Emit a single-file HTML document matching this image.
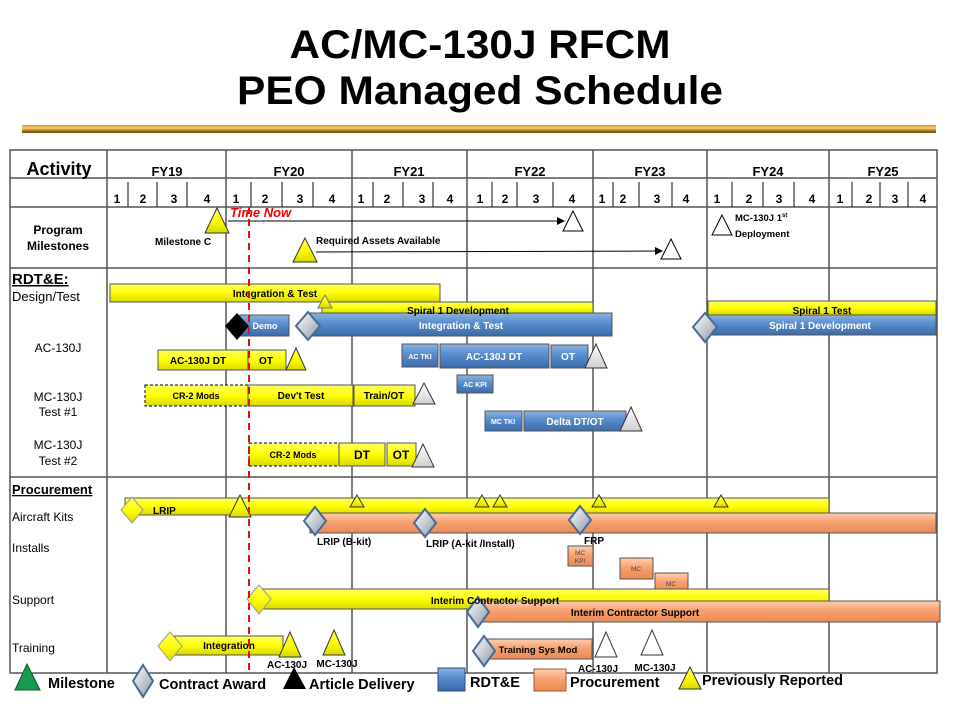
<!DOCTYPE html>
<html><head><meta charset="utf-8"><style>
html,body{margin:0;padding:0;background:#fff;}
svg{display:block;font-family:"Liberation Sans",sans-serif;}
.b{font-weight:bold;}
</style></head><body>
<svg width="960" height="720" viewBox="0 0 960 720" xmlns="http://www.w3.org/2000/svg">
<defs>
<linearGradient id="gold" x1="0" y1="0" x2="0" y2="1"><stop offset="0" stop-color="#c8961e"/><stop offset="0.4" stop-color="#f3d27a"/><stop offset="0.7" stop-color="#a9780f"/><stop offset="1" stop-color="#6b4a05"/></linearGradient>
<linearGradient id="yel" x1="0" y1="0" x2="0" y2="1"><stop offset="0" stop-color="#ffff66"/><stop offset="0.5" stop-color="#ffff00"/><stop offset="1" stop-color="#d8d800"/></linearGradient>
<linearGradient id="blu" x1="0" y1="0" x2="0" y2="1"><stop offset="0" stop-color="#8fb3e0"/><stop offset="0.4" stop-color="#5b8fd0"/><stop offset="1" stop-color="#3b6aa8"/></linearGradient>
<linearGradient id="org" x1="0" y1="0" x2="0" y2="1"><stop offset="0" stop-color="#fcd0b0"/><stop offset="0.45" stop-color="#f7a070"/><stop offset="1" stop-color="#e98a55"/></linearGradient>
<linearGradient id="dia" x1="0" y1="0" x2="1" y2="1"><stop offset="0" stop-color="#ffffff"/><stop offset="0.5" stop-color="#c8ccd4"/><stop offset="1" stop-color="#8a93a3"/></linearGradient>
<linearGradient id="wt" x1="0" y1="0" x2="0" y2="1"><stop offset="0" stop-color="#ffffff"/><stop offset="1" stop-color="#cfcfcf"/></linearGradient>
<marker id="ar" markerWidth="8" markerHeight="8" refX="7" refY="4" orient="auto"><path d="M0,0 L8,4 L0,8z" fill="#000"/></marker>
</defs>

<!-- Title -->
<text x="480" y="58" text-anchor="middle" class="b" font-size="40" textLength="381" lengthAdjust="spacingAndGlyphs">AC/MC-130J RFCM</text>
<text x="480" y="104" text-anchor="middle" class="b" font-size="40" textLength="486" lengthAdjust="spacingAndGlyphs">PEO Managed Schedule</text>
<rect x="22" y="125" width="914" height="8" fill="url(#gold)"/>

<!-- Grid -->
<g stroke="#555" stroke-width="1.5" fill="none">
<rect x="10" y="150" width="927" height="523"/>
<line x1="10" y1="178" x2="937" y2="178"/>
<line x1="10" y1="207" x2="937" y2="207"/>
<line x1="10" y1="268" x2="937" y2="268"/>
<line x1="10" y1="477" x2="937" y2="477"/>
<line x1="107" y1="150" x2="107" y2="673"/>
<line x1="226" y1="150" x2="226" y2="673"/>
<line x1="352" y1="150" x2="352" y2="673"/>
<line x1="467" y1="150" x2="467" y2="673"/>
<line x1="593" y1="150" x2="593" y2="673"/>
<line x1="707" y1="150" x2="707" y2="673"/>
<line x1="829" y1="150" x2="829" y2="673"/>
</g>
<g stroke="#333" stroke-width="1.2">
<line x1="128" y1="182" x2="128" y2="207"/><line x1="157" y1="182" x2="157" y2="207"/><line x1="187" y1="182" x2="187" y2="207"/>
<line x1="251" y1="182" x2="251" y2="207"/><line x1="282" y1="182" x2="282" y2="207"/><line x1="313" y1="182" x2="313" y2="207"/>
<line x1="373" y1="182" x2="373" y2="207"/><line x1="403" y1="182" x2="403" y2="207"/><line x1="433" y1="182" x2="433" y2="207"/>
<line x1="492" y1="182" x2="492" y2="207"/><line x1="517" y1="182" x2="517" y2="207"/><line x1="553" y1="182" x2="553" y2="207"/>
<line x1="613" y1="182" x2="613" y2="207"/><line x1="639" y1="182" x2="639" y2="207"/><line x1="672" y1="182" x2="672" y2="207"/>
<line x1="732" y1="182" x2="732" y2="207"/><line x1="763" y1="182" x2="763" y2="207"/><line x1="794" y1="182" x2="794" y2="207"/>
<line x1="852" y1="182" x2="852" y2="207"/><line x1="880" y1="182" x2="880" y2="207"/><line x1="908" y1="182" x2="908" y2="207"/>
</g>
<text x="59" y="175" text-anchor="middle" class="b" font-size="18">Activity</text>
<g class="b" font-size="13" text-anchor="middle">
<text x="167" y="176">FY19</text><text x="289" y="176">FY20</text><text x="409" y="176">FY21</text><text x="530" y="176">FY22</text><text x="650" y="176">FY23</text><text x="768" y="176">FY24</text><text x="883" y="176">FY25</text>
</g>
<g class="b" font-size="12" text-anchor="middle">
<text x="117" y="203">1</text><text x="143" y="203">2</text><text x="174" y="203">3</text><text x="207" y="203">4</text>
<text x="236" y="203">1</text><text x="265" y="203">2</text><text x="300" y="203">3</text><text x="332" y="203">4</text>
<text x="361" y="203">1</text><text x="387" y="203">2</text><text x="422" y="203">3</text><text x="450" y="203">4</text>
<text x="480" y="203">1</text><text x="505" y="203">2</text><text x="536" y="203">3</text><text x="572" y="203">4</text>
<text x="602" y="203">1</text><text x="623" y="203">2</text><text x="657" y="203">3</text><text x="686" y="203">4</text>
<text x="717" y="203">1</text><text x="749" y="203">2</text><text x="779" y="203">3</text><text x="812" y="203">4</text>
<text x="840" y="203">1</text><text x="869" y="203">2</text><text x="895" y="203">3</text><text x="923" y="203">4</text>
</g>

<!-- Program milestones -->
<g class="b" font-size="12" text-anchor="middle"><text x="58" y="234">Program</text><text x="58" y="250">Milestones</text></g>
<line x1="228" y1="221" x2="564" y2="221" stroke="#000" stroke-width="1" marker-end="url(#ar)"/>
<line x1="316" y1="252" x2="662" y2="251" stroke="#000" stroke-width="1" marker-end="url(#ar)"/>
<polygon points="217,208 205,233 229,233" fill="url(#yel)" stroke="#333"/>
<text x="155" y="245" class="b" font-size="10">Milestone C</text>
<polygon points="305,238 293,262 317,262" fill="url(#yel)" stroke="#333"/>
<text x="316" y="244" class="b" font-size="10">Required Assets Available</text>
<polygon points="573,211 563,231 583,231" fill="#fff" stroke="#000"/>
<polygon points="671,239 661,259 681,259" fill="#fff" stroke="#000"/>
<polygon points="722,215 712,235 732,235" fill="#fff" stroke="#000"/>
<text x="735" y="221" class="b" font-size="9.5">MC-130J 1<tspan font-size="6" dy="-4">st</tspan></text>
<text x="735" y="237" class="b" font-size="9.5">Deployment</text>
<text x="230" y="217" class="b" font-size="13" fill="#e00" font-style="italic">Time Now</text>

<!-- RDT&E -->
<text x="12" y="284" class="b" font-size="15" text-decoration="underline">RDT&amp;E:</text>
<text x="12" y="301" font-size="13">Design/Test</text>
<text x="58" y="352" text-anchor="middle" font-size="12">AC-130J</text>
<text x="58" y="401" text-anchor="middle" font-size="12">MC-130J</text>
<text x="58" y="416" text-anchor="middle" font-size="12">Test #1</text>
<text x="58" y="449" text-anchor="middle" font-size="12">MC-130J</text>
<text x="58" y="465" text-anchor="middle" font-size="12">Test #2</text>

<g stroke="#555" stroke-width="1">
<rect x="110" y="284" width="330" height="18" fill="url(#yel)"/>
<rect x="322" y="302" width="271" height="12" fill="url(#yel)"/>
<rect x="708" y="301" width="228" height="14" fill="url(#yel)"/>
<rect x="240" y="315" width="49" height="21" fill="url(#blu)"/>
<rect x="310" y="313" width="302" height="23" fill="url(#blu)"/>
<rect x="707" y="315" width="229" height="20" fill="url(#blu)"/>
<rect x="158" y="350" width="90" height="20" fill="url(#yel)"/>
<rect x="248" y="350" width="38" height="20" fill="url(#yel)"/>
<rect x="402" y="344" width="36" height="23" fill="url(#blu)"/>
<rect x="440" y="344" width="109" height="24" fill="url(#blu)"/>
<rect x="551" y="345" width="37" height="23" fill="url(#blu)"/>
<rect x="457" y="375" width="36" height="18" fill="url(#blu)"/>
<rect x="145" y="385" width="103" height="21" fill="url(#yel)" stroke="#000" stroke-dasharray="3,2"/>
<rect x="248" y="385" width="105" height="21" fill="url(#yel)"/>
<rect x="354" y="385" width="61" height="21" fill="url(#yel)"/>
<rect x="485" y="411" width="37" height="20" fill="url(#blu)"/>
<rect x="524" y="411" width="102" height="20" fill="url(#blu)"/>
<rect x="249" y="443" width="90" height="23" fill="url(#yel)" stroke="#000" stroke-dasharray="3,2"/>
<rect x="339" y="443" width="46" height="23" fill="url(#yel)"/>
<rect x="387" y="443" width="29" height="23" fill="url(#yel)"/>
</g>
<polygon points="325,295 318,308 332,308" fill="url(#yel)" stroke="#777"/>
<polygon points="237,313 249,326 237,340 225,326" fill="#000"/>
<polygon points="308,312 320,326 308,340 296,326" fill="url(#dia)" stroke="#4a6a95" stroke-width="2"/>
<polygon points="705,313 717,327 705,342 693,327" fill="url(#dia)" stroke="#4a6a95" stroke-width="2"/>
<polygon points="296,348 286,370 306,370" fill="url(#yel)" stroke="#333"/>
<polygon points="596,344 585,368 607,368" fill="url(#wt)" stroke="#333"/>
<polygon points="424,383 413,404 435,404" fill="url(#wt)" stroke="#333"/>
<polygon points="631,407 620,431 642,431" fill="url(#wt)" stroke="#333"/>
<polygon points="423,444 412,467 434,467" fill="url(#wt)" stroke="#333"/>
<g class="b" font-size="10" text-anchor="middle" fill="#000">
<text x="275" y="297">Integration &amp; Test</text>
<text x="458" y="314">Spiral 1 Development</text>
<text x="822" y="314">Spiral 1 Test</text>
<text x="198" y="364">AC-130J DT</text>
<text x="266" y="364">OT</text>
<text x="196" y="399" font-size="9">CR-2 Mods</text>
<text x="301" y="399">Dev't Test</text>
<text x="384" y="399">Train/OT</text>
<text x="293" y="458" font-size="9">CR-2 Mods</text>
<text x="362" y="459" font-size="12">DT</text>
<text x="401" y="459" font-size="12">OT</text>
</g>
<g class="b" font-size="10" text-anchor="middle" fill="#fff">
<text x="265" y="329" font-size="9">Demo</text>
<text x="461" y="329">Integration &amp; Test</text>
<text x="820" y="329">Spiral 1 Development</text>
<text x="420" y="359" font-size="7">AC TKI</text>
<text x="494" y="360">AC-130J DT</text>
<text x="568" y="360">OT</text>
<text x="475" y="387" font-size="7">AC KPI</text>
<text x="503" y="424" font-size="7">MC TKI</text>
<text x="575" y="425">Delta DT/OT</text>
</g>

<!-- Procurement -->
<text x="12" y="494" class="b" font-size="13" text-decoration="underline">Procurement</text>
<text x="12" y="521" font-size="12">Aircraft Kits</text>
<text x="12" y="552" font-size="12">Installs</text>
<text x="12" y="604" font-size="12">Support</text>
<text x="12" y="652" font-size="12">Training</text>

<g stroke="#555" stroke-width="1">
<rect x="125" y="498" width="704" height="17" fill="url(#yel)"/>
<rect x="310" y="513" width="626" height="20" fill="url(#org)"/>
<rect x="568" y="546" width="25" height="20" fill="url(#org)"/>
<rect x="620" y="558" width="33" height="21" fill="url(#org)"/>
<rect x="655" y="573" width="33" height="20" fill="url(#org)"/>
<rect x="255" y="589" width="574" height="20" fill="url(#yel)"/>
<rect x="475" y="601" width="465" height="21" fill="url(#org)"/>
<rect x="175" y="636" width="108" height="19" fill="url(#yel)"/>
<rect x="485" y="639" width="107" height="20" fill="url(#org)"/>
</g>
<g fill="url(#yel)" stroke="#333">
<polygon points="240,495 229,517 251,517"/>
<polygon points="357,495 350,507 364,507"/>
<polygon points="482,495 475,507 489,507"/>
<polygon points="500,495 493,507 507,507"/>
<polygon points="599,495 592,507 606,507"/>
<polygon points="721,495 714,507 728,507"/>
<polygon points="290,632 279,657 301,657"/>
<polygon points="334,630 323,655 345,655"/>
</g>
<g fill="url(#yel)" stroke="#999">
<polygon points="132,497 143,510 132,523 121,510"/>
<polygon points="259,585 271,599 259,614 247,599"/>
<polygon points="170,632 182,646 170,661 158,646"/>
</g>
<g fill="url(#dia)" stroke="#4a6a95" stroke-width="2">
<polygon points="315,507 326,521 315,535 304,521"/>
<polygon points="425,509 436,523 425,537 414,523"/>
<polygon points="580,506 591,520 580,534 569,520"/>
<polygon points="478,597 489,612 478,627 467,612"/>
<polygon points="484,636 495,651 484,666 473,651"/>
</g>
<polygon points="606,632 595,657 617,657" fill="#fff" stroke="#333"/>
<polygon points="652,630 641,655 663,655" fill="#fff" stroke="#333"/>
<g class="b" font-size="10" fill="#000">
<text x="153" y="514">LRIP</text>
<text x="317" y="545">LRIP (B-kit)</text>
<text x="426" y="547">LRIP (A-kit /Install)</text>
<text x="584" y="544">FRP</text>
<text x="495" y="604" text-anchor="middle">Interim Contractor Support</text>
<text x="635" y="616" text-anchor="middle">Interim Contractor Support</text>
<text x="229" y="649" text-anchor="middle">Integration</text>
<text x="538" y="653" text-anchor="middle" font-size="9.5">Training Sys Mod</text>
<text x="287" y="668" text-anchor="middle">AC-130J</text>
<text x="337" y="667" text-anchor="middle">MC-130J</text>
<text x="598" y="672" text-anchor="middle">AC-130J</text>
<text x="655" y="671" text-anchor="middle">MC-130J</text>
</g>
<g font-size="6.5" fill="#444" text-anchor="middle">
<text x="580" y="555">MC</text><text x="580" y="563">KPI</text>
<text x="636" y="571">MC</text><text x="671" y="586">MC</text>
</g>

<!-- Time now line -->
<line x1="249" y1="207" x2="249" y2="673" stroke="#e01010" stroke-width="2" stroke-dasharray="7,5"/>

<!-- Legend -->
<polygon points="27,664 15,690 40,690" fill="#1a9a50" stroke="#0d5a2c"/>
<text x="48" y="688" class="b" font-size="14.5">Milestone</text>
<polygon points="143,665 153,681 143,697 133,681" fill="url(#dia)" stroke="#4a6a95" stroke-width="2"/>
<text x="159" y="689" class="b" font-size="14.5">Contract Award</text>
<polygon points="294,667 283,689 306,689" fill="#000"/>
<text x="309" y="689" class="b" font-size="14.5">Article Delivery</text>
<rect x="438" y="668" width="27" height="23" fill="url(#blu)" stroke="#2c4f80"/>
<text x="470" y="687" class="b" font-size="14.5">RDT&amp;E</text>
<rect x="534" y="669" width="32" height="22" fill="url(#org)" stroke="#a05a30"/>
<text x="570" y="687" class="b" font-size="14.5">Procurement</text>
<polygon points="690,667 679,689 701,689" fill="url(#yel)" stroke="#333"/>
<text x="702" y="685" class="b" font-size="14.5">Previously Reported</text>
</svg>
</body></html>
